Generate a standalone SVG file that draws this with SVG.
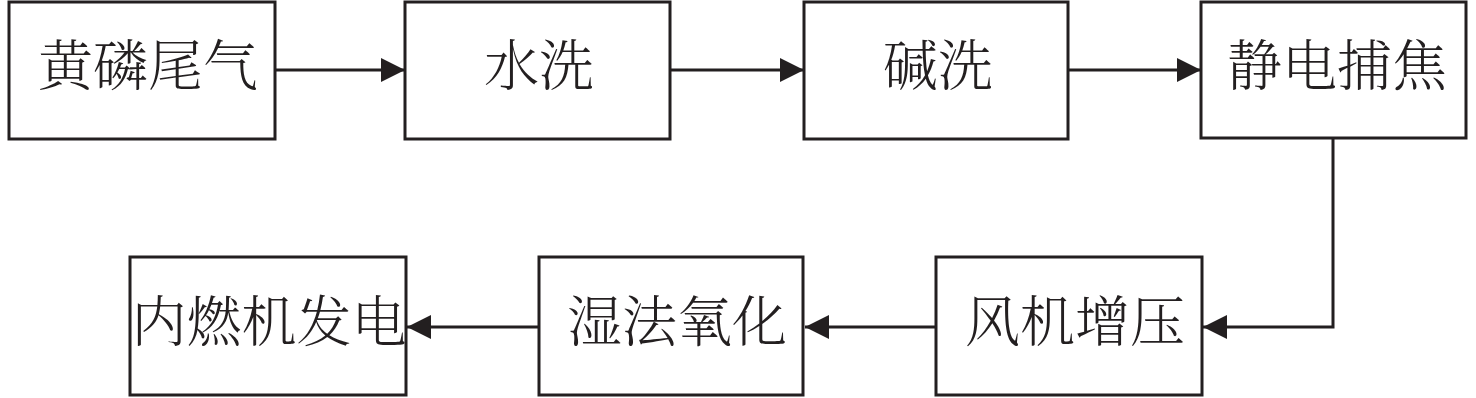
<svg xmlns="http://www.w3.org/2000/svg" width="1476" height="398" viewBox="0 0 1476 398">
<style>
.box{fill:#fff;stroke:#231f20;stroke-width:3}
.lbl{font-family:"Liberation Serif","Noto Serif CJK SC","Noto Sans CJK SC",serif;font-size:55px;font-weight:300;fill:#231f20;text-anchor:middle;dominant-baseline:central}
.con{fill:none;stroke:#231f20;stroke-width:3}
</style>
<defs>
<marker id="ah" markerUnits="userSpaceOnUse" markerWidth="26" markerHeight="26" refX="24" refY="12" orient="auto">
<path d="M0,0 L24,12 L0,24 Z" fill="#231f20"/>
</marker>
</defs>
<g id="connectors">
<line class="con" x1="275" y1="70" x2="405" y2="70" marker-end="url(#ah)"/>
<line class="con" x1="670" y1="70" x2="804" y2="70" marker-end="url(#ah)"/>
<line class="con" x1="1068" y1="70" x2="1201" y2="70" marker-end="url(#ah)"/>
<polyline class="con" points="1333,139 1333,327 1203,327" marker-end="url(#ah)"/>
<line class="con" x1="936" y1="327" x2="805" y2="327" marker-end="url(#ah)"/>
<line class="con" x1="539" y1="327" x2="407" y2="327" marker-end="url(#ah)"/>
</g>
<g id="n1"><rect class="box" x="9" y="2" width="266" height="137"/><text class="lbl" x="148" y="66">黄磷尾气</text></g>
<g id="n2"><rect class="box" x="405" y="2" width="265" height="137"/><text class="lbl" x="539" y="66">水洗</text></g>
<g id="n3"><rect class="box" x="804" y="2" width="264" height="137"/><text class="lbl" x="938" y="66">碱洗</text></g>
<g id="n4"><rect class="box" x="1201" y="2" width="265" height="136"/><text class="lbl" x="1337" y="66">静电捕焦</text></g>
<g id="n5"><rect class="box" x="936" y="257" width="266" height="138"/><text class="lbl" x="1075" y="322">风机增压</text></g>
<g id="n6"><rect class="box" x="539" y="257" width="264" height="138"/><text class="lbl" x="677" y="322">湿法氧化</text></g>
<g id="n7"><rect class="box" x="130" y="257" width="276" height="138"/><text class="lbl" x="269" y="322">内燃机发电</text></g>
</svg>
